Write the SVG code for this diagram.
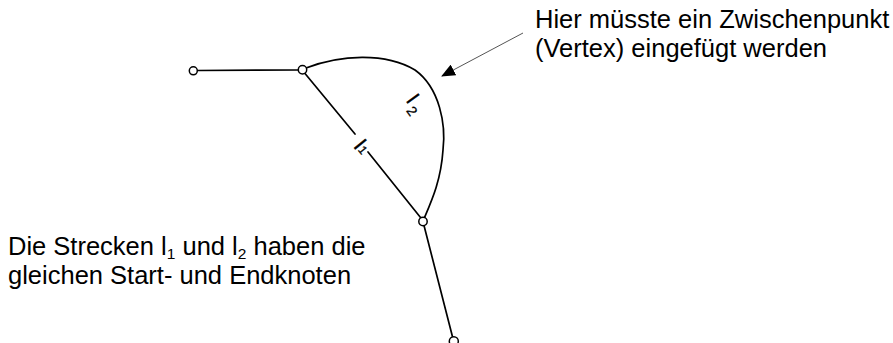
<svg xmlns="http://www.w3.org/2000/svg" width="893" height="343" viewBox="0 0 893 343">
  <style>
    .edge { fill: none; stroke: #000; stroke-width: 1.7; stroke-linecap: round; }
    .node { fill: #fff; stroke: #000; stroke-width: 1.5; }
    .txt { font-family: "Liberation Sans", Arial, sans-serif; fill: #000; }
    .note { font-size: 25.5px; }
    .lbl { font-size: 20px; stroke: #000; stroke-width: 0.5; }
    .pointer { fill: none; stroke: #555; stroke-width: 1; }
  </style>
  <defs>
    <marker id="tri" viewBox="0 0 14 12" refX="13" refY="6" markerWidth="14" markerHeight="12" markerUnits="userSpaceOnUse" orient="auto">
      <path d="M0,0 L14,6 L0,12 Z" fill="#000"/>
    </marker>
  </defs>

  <!-- connectors -->
  <g id="connectors">
    <line class="edge" x1="197.5" y1="70.5" x2="298.3" y2="70"/>
    <!-- l1: straight segment, broken around its label -->
    <line class="edge" x1="305" y1="73.5" x2="355" y2="134"/>
    <line class="edge" x1="368" y1="152" x2="420.5" y2="217.5"/>
    <!-- l2: curved segment with the same start and end node -->
    <path class="edge" d="M306,68 C340,55 385,52 415,70 C440,88 446,125 443,150 C441,180 432,200 424.5,217.5"/>
    <line class="edge" x1="424" y1="225.5" x2="452.5" y2="336.8"/>
    <!-- pointer to the missing vertex -->
    <line class="pointer" x1="523" y1="33" x2="442" y2="76" marker-end="url(#tri)"/>
  </g>

  <!-- nodes -->
  <g id="node-a"><circle class="node" cx="193.3" cy="70.8" r="4"/></g>
  <g id="node-b"><circle class="node" cx="302.5" cy="69.8" r="4.2"/></g>
  <g id="node-c"><circle class="node" cx="423" cy="221.5" r="4.2"/></g>
  <g id="node-d"><circle class="node" cx="453.8" cy="341.2" r="4.5"/></g>

  <!-- segment labels -->
  <g id="label-l1">
    <text class="txt lbl" transform="translate(353.2,147) rotate(51)">l<tspan x="5" y="-1.4" font-size="12" stroke-width="0.3">1</tspan></text>
  </g>
  <g id="label-l2">
    <text class="txt lbl" transform="translate(405.8,100.9) rotate(54)">l<tspan x="8" y="5.9" font-size="14" stroke-width="0.3">2</tspan></text>
  </g>

  <!-- notes -->
  <g id="note-vertex">
    <text class="txt note" x="535" y="28">Hier müsste ein Zwischenpunkt</text>
    <text class="txt note" x="535" y="57">(Vertex) eingefügt werden</text>
  </g>
  <g id="note-segments">
    <text class="txt note" x="8" y="255">Die Strecken l<tspan font-size="15.5" dy="4">1</tspan><tspan dy="-4"> und l</tspan><tspan font-size="15.5" dy="4">2</tspan><tspan dy="-4"> haben die</tspan></text>
    <text class="txt note" x="8" y="284">gleichen Start- und Endknoten</text>
  </g>
</svg>
